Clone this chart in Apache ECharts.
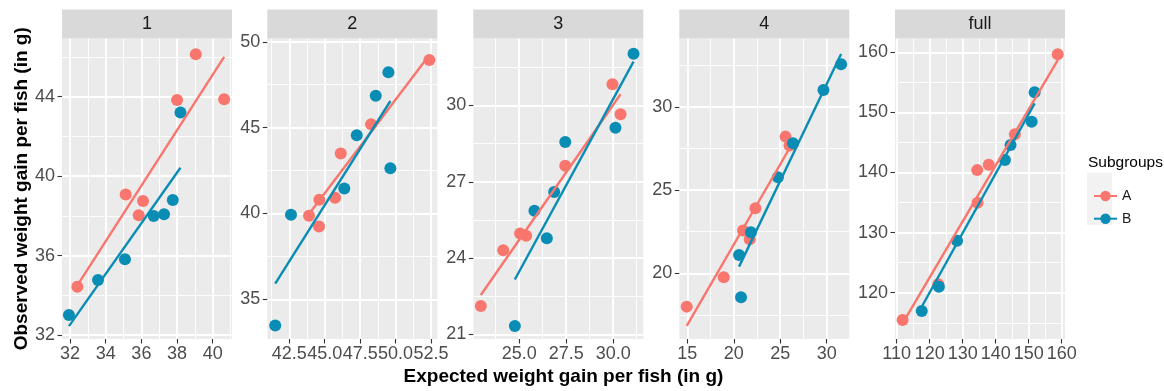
<!DOCTYPE html>
<html><head><meta charset="utf-8">
<script src="https://cdn.jsdelivr.net/npm/echarts@6/dist/echarts.min.js"></script>
<style>html,body{margin:0;padding:0;background:#fff}#c{width:1164px;height:391px}</style>
</head><body><div id="c"></div>
<script>
// ---------- data ----------
const panelNames = ['1', '2', '3', '4', 'full'];
const subgroups = ['A', 'B'];

const p1A = [[32.41,34.43],[35.12,39.08],[35.85,38.03],[36.09,38.75],[38.0,43.83],[39.05,46.14],[40.64,43.87]];
const p1B = [[31.94,33.01],[33.57,34.77],[35.08,35.81],[36.69,37.99],[37.27,38.08],[37.76,38.80],[38.19,43.21]];
const p2A = [[43.89,39.87],[44.6,39.24],[44.62,40.8],[45.73,40.91],[46.13,43.49],[48.27,45.2],[52.38,48.94]];
const p2B = [[41.51,33.47],[42.62,39.92],[46.38,41.45],[47.26,44.56],[48.6,46.86],[49.49,48.22],[49.63,42.64]];
const p3A = [[22.96,22.12],[24.15,24.31],[25.05,24.97],[25.37,24.88],[27.45,27.63],[29.96,30.83],[30.39,29.65]];
const p3B = [[24.77,21.33],[25.81,25.86],[26.47,24.78],[26.86,26.6],[27.45,28.56],[30.12,29.12],[31.08,32.03]];
const p4A = [[14.94,17.99],[18.92,19.76],[21.0,22.57],[21.72,22.05],[22.33,23.92],[25.57,28.23],[26.0,27.69]];
const p4B = [[20.57,21.1],[20.78,18.55],[21.85,22.47],[24.75,25.78],[26.37,27.83],[29.65,31.04],[31.55,32.59]];
const p5A = [[111.8,115.46],[122.6,121.4],[134.5,134.97],[134.4,140.4],[137.9,141.3],[145.8,146.35],[158.8,159.67]];
const p5B = [[117.6,116.95],[122.8,121.0],[128.3,128.65],[142.8,142.08],[144.5,144.58],[150.9,148.45],[151.8,153.35]];

// fitted lines (end points)
const fit1A = [[32.41,34.5],[40.64,46.0]],   fit1B = [[31.94,32.45],[38.19,40.42]];
const fit2A = [[43.89,39.97],[52.38,49.23]], fit2B = [[41.51,35.91],[49.63,46.55]];
const fit3A = [[22.96,22.55],[30.39,30.44]], fit3B = [[24.77,23.16],[31.08,31.72]];
const fit4A = [[14.94,16.83],[26.0,27.53]],  fit4B = [[20.57,20.4],[31.55,33.21]];
const fit5A = [[111.8,114.9],[158.8,158.7]], fit5B = [[117.6,117.67],[151.8,151.5]];

// axis ranges and ticks
const xLimits = [[31.55,41.08],[40.95,52.94],[22.56,31.6],[14.14,32.43],[109.5,161]];
const yLimits = [[31.8,46.93],[32.69,50.19],[20.82,32.63],[16.04,34.14],[112.3,162.3]];
const xTicks = [[32,34,36,38,40],[42.5,45,47.5,50,52.5],[25,27.5,30],[15,20,25,30],[110,120,130,140,150,160]];
const xTickLabels = [['32','34','36','38','40'],['42.5','45.0','47.5','50.0','52.5'],['25.0','27.5','30.0'],['15','20','25','30'],['110','120','130','140','150','160']];
const yTicks = [[32,36,40,44],[35,40,45,50],[21,24,27,30],[20,25,30],[120,130,140,150,160]];
const yTickLabels = [['32','36','40','44'],['35','40','45','50'],['21','24','27','30'],['20','25','30'],['120','130','140','150','160']];

const xTitle = 'Expected weight gain per fish (in g)';
const yTitle = 'Observed weight gain per fish (in g)';
const legendTitle = 'Subgroups';

// ---------- layout / style ----------
const points = [[p1A,p1B],[p2A,p2B],[p3A,p3B],[p4A,p4B],[p5A,p5B]];
const fits = [[fit1A,fit1B],[fit2A,fit2B],[fit3A,fit3B],[fit4A,fit4B],[fit5A,fit5B]];
const colors = ['#F8766D', '#0A8DB5'];
const FONT = '"Liberation Sans", Arial, sans-serif';
const panelLeft = [62, 267.3, 473.3, 679.3, 895];
const panelW = 170, panelTop = 38.5, panelH = 300.5;
const stripTop = 9.5;

function minors(ticks, lim) {
  const step = ticks[1] - ticks[0];
  const out = [];
  for (let v = ticks[0] - step / 2; v < lim[1]; v += step) {
    if (v > lim[0]) out.push(Math.round(v * 1e6) / 1e6);
  }
  return out;
}
function fmt(ticks, labels) {
  return v => { const k = ticks.findIndex(t => Math.abs(t - v) < 1e-6); return k >= 0 ? labels[k] : ''; };
}

const grids = [], xAxes = [], yAxes = [], series = [], graphics = [];

panelNames.forEach((name, i) => {
  grids.push({ left: panelLeft[i], top: panelTop, width: panelW, height: panelH, show: true,
    backgroundColor: '#EBEBEB', borderWidth: 0, containLabel: false, outerBoundsMode: 'none' });

  // major x
  xAxes.push({ gridIndex: i, type: 'value', min: xLimits[i][0], max: xLimits[i][1], position: 'bottom',
    axisLine: { show: false, onZero: false },
    axisTick: { show: true, length: 4.5, customValues: xTicks[i], lineStyle: { color: '#333333', width: 1.1 } },
    axisLabel: { show: true, customValues: xTicks[i], formatter: fmt(xTicks[i], xTickLabels[i]), color: '#4D4D4D',
      fontSize: 18, fontFamily: FONT, margin: 6, hideOverlap: false },
    splitLine: { show: true, lineStyle: { color: '#FFFFFF', width: 1.9 } } });
  // minor x
  const mx = minors(xTicks[i], xLimits[i]);
  xAxes.push({ gridIndex: i, type: 'value', min: xLimits[i][0], max: xLimits[i][1], position: 'top',
    axisLine: { show: false, onZero: false },
    axisTick: { show: false, customValues: mx },
    axisLabel: { show: false, customValues: mx },
    splitLine: { show: true, lineStyle: { color: '#FFFFFF', width: 0.9 } } });

  // major y
  yAxes.push({ gridIndex: i, type: 'value', min: yLimits[i][0], max: yLimits[i][1], position: 'left',
    axisLine: { show: false, onZero: false },
    axisTick: { show: true, length: 4.5, customValues: yTicks[i], lineStyle: { color: '#333333', width: 1.1 } },
    axisLabel: { show: true, customValues: yTicks[i], formatter: fmt(yTicks[i], yTickLabels[i]), color: '#4D4D4D',
      fontSize: 18, fontFamily: FONT, margin: 7 },
    splitLine: { show: true, lineStyle: { color: '#FFFFFF', width: 1.9 } } });
  const my = minors(yTicks[i], yLimits[i]);
  yAxes.push({ gridIndex: i, type: 'value', min: yLimits[i][0], max: yLimits[i][1], position: 'right',
    axisLine: { show: false, onZero: false },
    axisTick: { show: false, customValues: my },
    axisLabel: { show: false, customValues: my },
    splitLine: { show: true, lineStyle: { color: '#FFFFFF', width: 0.9 } } });

  subgroups.forEach((g, j) => {
    series.push({ name: g, type: 'line', xAxisIndex: 2 * i, yAxisIndex: 2 * i, data: fits[i][j],
      symbol: 'circle', symbolSize: 10, showSymbol: false, silent: true, z: 4,
      lineStyle: { color: colors[j], width: 2.4 }, itemStyle: { color: colors[j] }, animation: false });
  });
  subgroups.forEach((g, j) => {
    series.push({ name: g, type: 'scatter', xAxisIndex: 2 * i, yAxisIndex: 2 * i, data: points[i][j],
      symbol: 'circle', symbolSize: 12, z: 3, itemStyle: { color: colors[j], opacity: 1 }, animation: false });
  });

  // strip
  graphics.push({ type: 'rect', shape: { x: panelLeft[i], y: stripTop, width: panelW, height: panelTop - stripTop },
    style: { fill: '#D9D9D9' }, silent: true });
  graphics.push({ type: 'text', x: panelLeft[i] + panelW / 2, y: (stripTop + panelTop) / 2 + 0.5,
    style: { text: name, font: '18px ' + FONT, fill: '#1A1A1A', align: 'center', verticalAlign: 'middle' }, silent: true });
});

// axis titles
graphics.push({ type: 'text', x: (panelLeft[0] + panelLeft[4] + panelW) / 2, y: 377,
  style: { text: xTitle, font: 'bold 19px ' + FONT, fill: '#000', align: 'center', verticalAlign: 'middle' }, silent: true });
graphics.push({ type: 'text', x: 22, y: panelTop + panelH / 2, rotation: Math.PI / 2,
  style: { text: yTitle, font: 'bold 19px ' + FONT, fill: '#000', align: 'center', verticalAlign: 'middle' }, silent: true });
// legend title and key background
graphics.push({ type: 'text', x: 1088, y: 163,
  style: { text: legendTitle, font: '15.5px ' + FONT, fill: '#000', align: 'left', verticalAlign: 'middle' }, silent: true });
graphics.push({ type: 'rect', shape: { x: 1087, y: 173, width: 25, height: 52 }, style: { fill: '#F2F2F2' }, silent: true });

const chart = echarts.init(document.getElementById('c'), null, { renderer: 'canvas' });
chart.setOption({
  animation: false,
  backgroundColor: '#FFFFFF',
  grid: grids,
  xAxis: xAxes,
  yAxis: yAxes,
  series: series,
  graphic: graphics,
  legend: { data: subgroups, orient: 'vertical', left: 1088, top: 184, itemWidth: 23, itemHeight: 13, itemGap: 8.7,
    selectedMode: false, textStyle: { fontSize: 14, color: '#1A1A1A', fontFamily: FONT } },
  tooltip: { show: false }
});
</script></body></html>
